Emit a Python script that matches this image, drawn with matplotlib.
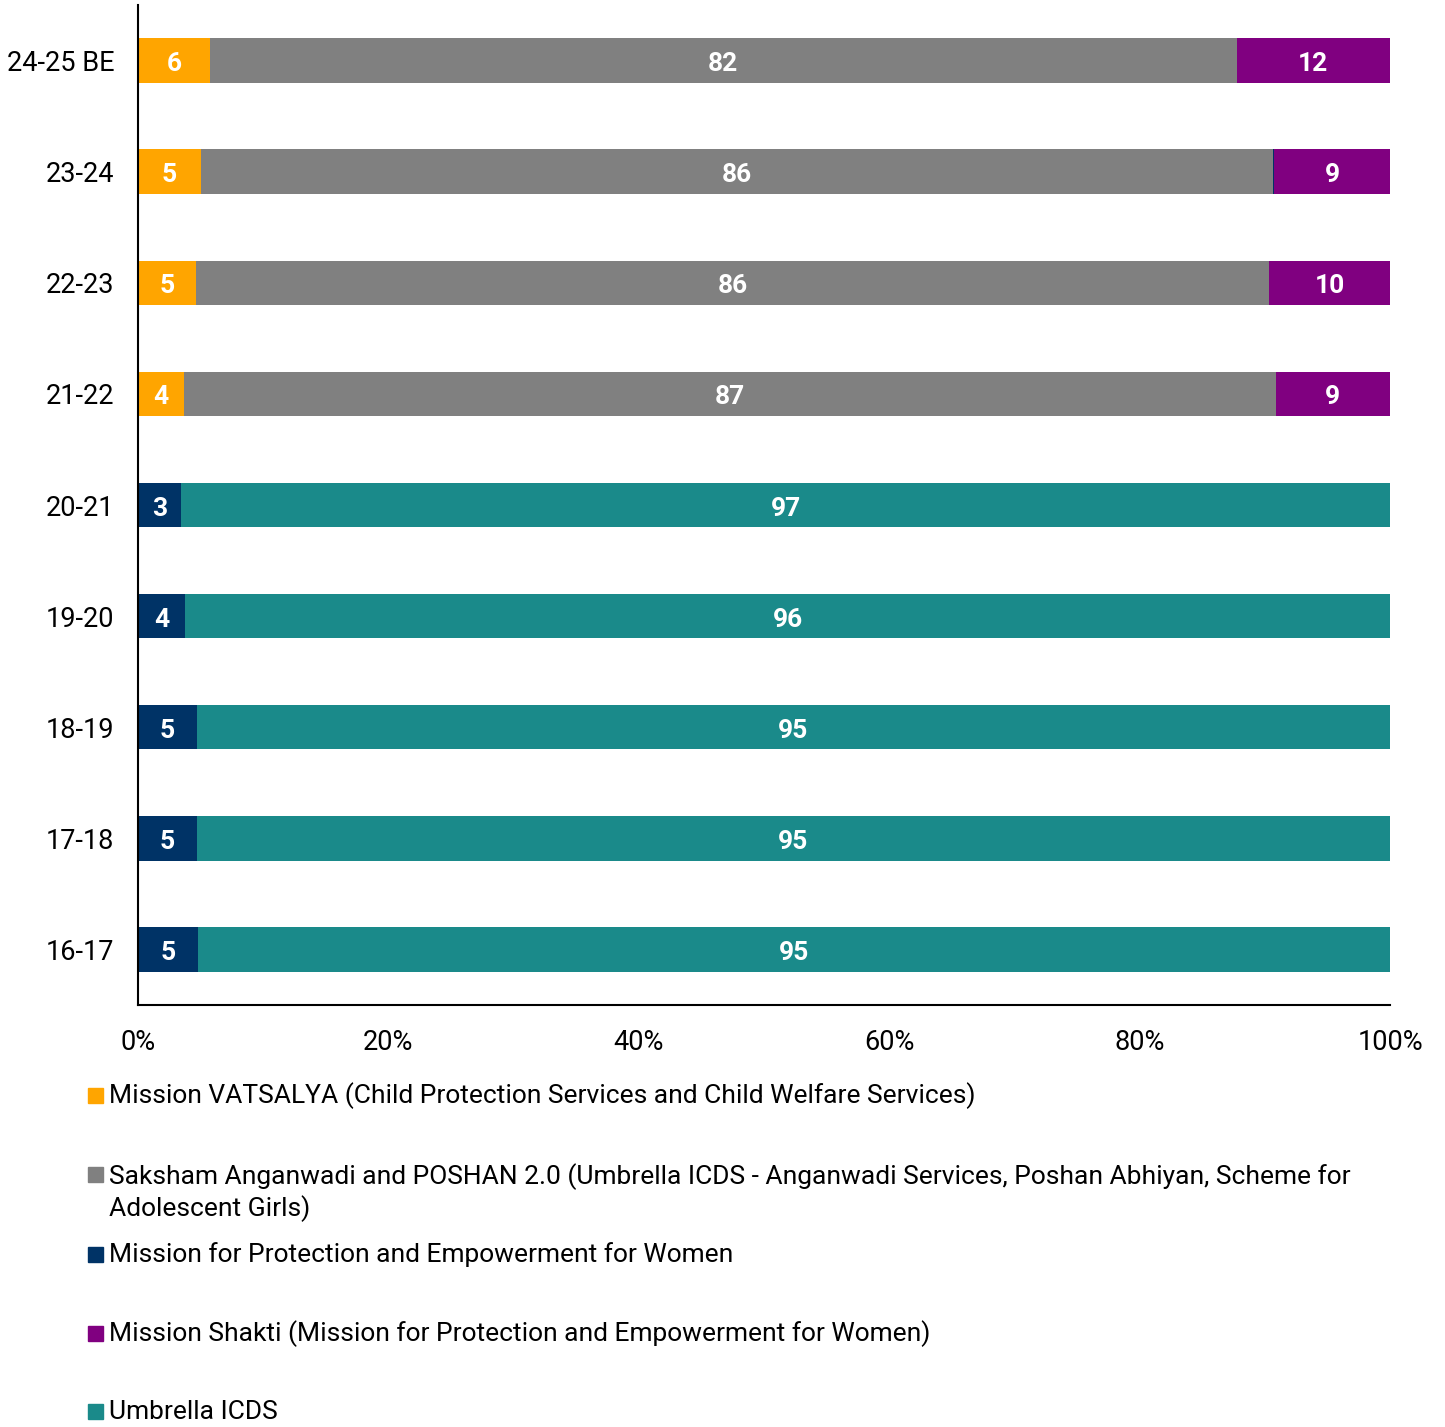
import matplotlib.pyplot as plt
from matplotlib.patches import Rectangle
import numpy as np

plt.rcParams['font.family'] = ['Roboto', 'DejaVu Sans']

years = ['16-17', '17-18', '18-19', '19-20', '20-21', '21-22', '22-23', '23-24', '24-25 BE']

# shares in percent, stacked in this order
vatsalya = [0, 0, 0, 0, 0, 3.67, 4.63, 5.03, 5.75]
saksham = [0, 0, 0, 0, 0, 87.2, 85.7, 85.6, 82.0]
protection = [4.79, 4.71, 4.71, 3.75, 3.45, 0, 0, 0.1, 0]
shakti = [0, 0, 0, 0, 0, 9.13, 9.67, 9.27, 12.25]
umbrella = [95.21, 95.29, 95.29, 96.25, 96.55, 0, 0, 0, 0]

series_names = [
    'Mission VATSALYA (Child Protection Services and Child Welfare Services)',
    'Saksham Anganwadi and POSHAN 2.0 (Umbrella ICDS - Anganwadi Services, Poshan Abhiyan, Scheme for\nAdolescent Girls)',
    'Mission for Protection and Empowerment for Women',
    'Mission Shakti (Mission for Protection and Empowerment for Women)',
    'Umbrella ICDS',
]
colors = ['#FFA500', '#808080', '#003366', '#800080', '#1A8A8A']

fig = plt.figure(figsize=(14.45, 14.27), dpi=100)
ax = fig.add_axes([138 / 1445, 1 - 1005 / 1427, (1390 - 138) / 1445, 1000 / 1427])

y = np.arange(len(years))
left = np.zeros(len(years))
for vals, col in zip([vatsalya, saksham, protection, shakti, umbrella], colors):
    vals = np.array(vals, dtype=float)
    bars = ax.barh(y, vals, left=left, height=0.4, color=col, edgecolor='none')
    for b, v in zip(bars, vals):
        if v >= 1:
            ax.text(b.get_x() + b.get_width() / 2, b.get_y() + b.get_height() / 2 - 0.01,
                    f'{v:.0f}', ha='center', va='center_baseline', color='white',
                    fontsize=19, fontweight='bold')
    left += vals

ax.set_xlim(0, 100)
ax.set_ylim(-0.5, len(years) - 0.5)
ax.set_yticks(y)
ax.set_yticklabels(years)
ax.set_xticks(np.arange(0, 101, 20))
ax.set_xticklabels([f'{t}%' for t in range(0, 101, 20)])
ax.tick_params(axis='both', length=0, labelsize=19.5)
ax.tick_params(axis='x', pad=17)
ax.tick_params(axis='y', pad=17)
for s in ['top', 'right']:
    ax.spines[s].set_visible(False)
for s in ['left', 'bottom']:
    ax.spines[s].set_linewidth(1.5)
    ax.spines[s].set_color('black')

# legend below the plot
legend_y = [1096, 1175, 1255, 1334, 1412]
for name, col, ly in zip(series_names, colors, legend_y):
    fig.patches.append(Rectangle((88 / 1445, 1 - (ly + 7) / 1427), 15 / 1445, 15 / 1427,
                                 transform=fig.transFigure, color=col))
    if '\n' in name:
        fig.text(109 / 1445, 1 - (ly - 12) / 1427, name, ha='left', va='top',
                 fontsize=19, linespacing=1.25)
    else:
        fig.text(109 / 1445, 1 - ly / 1427, name, ha='left', va='center', fontsize=19)

fig.savefig('out.png', dpi=100)
